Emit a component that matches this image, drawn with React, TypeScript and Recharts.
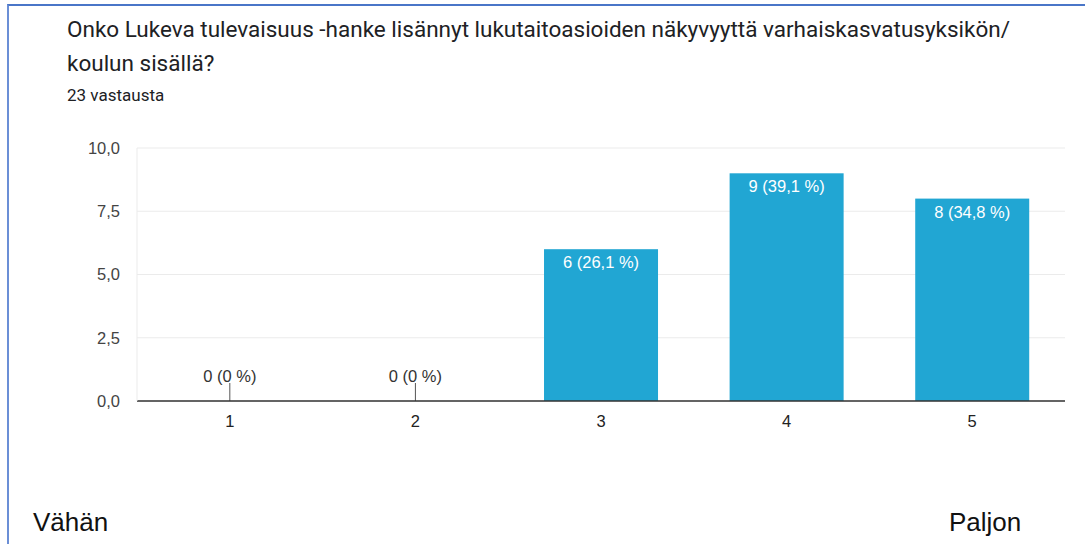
import { BarChart, Bar, XAxis, YAxis, CartesianGrid } from "recharts";

const categories = ["1", "2", "3", "4", "5"];
const counts = [0, 0, 6, 9, 8];
const percents = ["0 %", "0 %", "26,1 %", "39,1 %", "34,8 %"];
const yTicks = [0, 2.5, 5, 7.5, 10];

const titleLine1 =
  "Onko Lukeva tulevaisuus -hanke lisännyt lukutaitoasioiden näkyvyyttä varhaiskasvatusyksikön/";
const titleLine2 = "koulun sisällä?";
const subtitle = "23 vastausta";

const chartData = categories.map((c, i) => ({
  name: c,
  count: counts[i],
  label: `${counts[i]} (${percents[i]})`,
}));

const fmt = (v: number) => v.toFixed(1).replace(".", ",");
const chartFont = "'Liberation Sans', Arial, sans-serif";

// draw the bar and its annotation together, so zero bars still get their stem + text
function BarShape(props: any) {
  const { x, y, width, height, payload, fill } = props;
  const cx = x + width / 2;
  if (!height) {
    return (
      <g>
        <line x1={cx} x2={cx} y1={y} y2={y - 18} stroke="#555" strokeWidth={1} />
        <text
          x={cx}
          y={y - 25}
          textAnchor="middle"
          dominantBaseline="central"
          fontSize={16.5}
          fill="#333"
          fontFamily={chartFont}
        >
          {payload.label}
        </text>
      </g>
    );
  }
  return (
    <g>
      <rect x={x} y={y} width={width} height={height} fill={fill} />
      <text
        x={cx}
        y={y + 13}
        textAnchor="middle"
        dominantBaseline="central"
        fontSize={16.5}
        fill="#fff"
        fontFamily={chartFont}
      >
        {payload.label}
      </text>
    </g>
  );
}

export default function App() {
  return (
    <div
      style={{
        position: "absolute",
        left: 0,
        top: 0,
        width: 1085,
        height: 544,
        background: "#fff",
        overflow: "hidden",
      }}
    >
      <div
        style={{
          position: "absolute",
          left: 7,
          top: 4,
          width: 1085,
          height: 544,
          borderTop: "2px solid #4a76c8",
          borderLeft: "2px solid #6b8fd6",
        }}
      />
      <div
        style={{
          position: "absolute",
          left: 67,
          top: 12,
          fontFamily: "Roboto, Arial, sans-serif",
          fontSize: 22.5,
          color: "#202124",
          lineHeight: "34px",
          whiteSpace: "nowrap",
        }}
      >
        <div>{titleLine1}</div>
        <div>{titleLine2}</div>
      </div>
      <div
        style={{
          position: "absolute",
          left: 67,
          top: 85,
          fontFamily: "Roboto, Arial, sans-serif",
          fontSize: 17,
          color: "#202124",
          whiteSpace: "nowrap",
        }}
      >
        {subtitle}
      </div>
      <div style={{ position: "absolute", left: 0, top: 0 }}>
        <BarChart
          width={1085}
          height={544}
          data={chartData}
          margin={{ top: 148, right: 20, bottom: 113, left: 0 }}
          barCategoryGap="19.3%"
          style={{ fontFamily: chartFont }}
        >
          <CartesianGrid vertical={false} stroke="#ebebeb" />
          <XAxis
            dataKey="name"
            height={30}
            tickLine={false}
            tickMargin={8}
            axisLine={{ stroke: "#333", strokeWidth: 1.5 }}
            tick={{ fontSize: 16.5, fill: "#222" }}
          />
          <YAxis
            width={137}
            domain={[0, 10]}
            ticks={yTicks}
            tickFormatter={fmt}
            tickLine={false}
            tickMargin={11}
            axisLine={{ stroke: "#ebebeb" }}
            tick={{ fontSize: 16.5, fill: "#444" }}
          />
          <Bar
            dataKey="count"
            fill="#21a6d3"
            shape={BarShape}
            isAnimationActive={false}
          />
        </BarChart>
      </div>
      <div
        style={{
          position: "absolute",
          left: 33,
          top: 507,
          fontFamily: chartFont,
          fontSize: 26,
          color: "#111",
        }}
      >
        Vähän
      </div>
      <div
        style={{
          position: "absolute",
          left: 949,
          top: 507,
          fontFamily: chartFont,
          fontSize: 26,
          color: "#111",
        }}
      >
        Paljon
      </div>
    </div>
  );
}
